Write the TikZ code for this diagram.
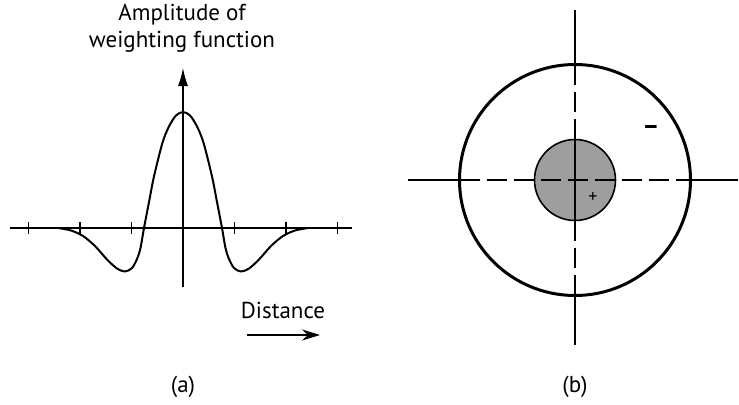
\documentclass[tikz,border=0pt]{standalone}
\usepackage{fontspec}
\setmainfont{PT Sans}
\usetikzlibrary{arrows.meta, positioning}
\definecolor{discgray}{gray}{0.62}

\begin{document}
\begin{tikzpicture}[x=0.5pt, y=0.5pt,
        axis/.style={line width=0.6pt},
        curve/.style={line width=1pt, line join=round},
        ring/.style={circle, draw, line width=1.5pt, inner sep=0pt, outer sep=0pt},
        disc/.style={circle, draw, line width=0.8pt, fill=discgray, inner sep=0pt, outer sep=0pt},
        dashaxis/.style={line width=0.6pt, dash pattern=on 10pt off 3.5pt},
        lbl/.style={font=\fontsize{11.5}{13.5}\selectfont, inner sep=0pt}]
  \useasboundingbox (0,0) rectangle (739,404);
  % (a) weighting function
  \coordinate (o) at (183,176);
  \coordinate (xl) at (10,176);
  \coordinate (xr) at (352,176);
  \coordinate (yb) at (183,117);
  \coordinate (yt) at (183,336);
  \draw[axis] (xl) -- (xr);
  \draw[axis, -{Latex[length=9pt, width=5pt]}] (yb) -- (yt);
  \foreach \k in {-3,-2,-1,1,2,3}
    \draw[axis] ([shift={(51.5*\k,-6)}]o) -- ([shift={(51.5*\k,6)}]o);
  \begin{scope}[shift={(o)}]
    \draw[curve] plot[smooth, tension=0.5] coordinates {
      (-125,0) (-112,-2.5) (-100,-8) (-88,-18) (-76,-31.5) (-66,-40.5)
      (-58,-43.5) (-51,-40) (-46,-31) (-42.5,-20) (-39,0) (-34,26)
      (-29,51.6) (-20.6,85) (-14,101.6) (-7,112.5) (0,116)
      (7,112.5) (14,101.6) (20.6,85) (29,51.6) (34,26) (39,0)
      (42.5,-20) (46,-31) (51,-40) (58,-43.5) (66,-40.5) (76,-31.5)
      (88,-18) (100,-8) (112,-2.5) (125,0)};
  \end{scope}
  \node[lbl, align=center] (amp) at (182,376) {Amplitude of\\weighting function};
  \node[lbl] (dist) at (283,94) {Distance};
  \coordinate (d0) at (247,69);
  \coordinate (d1) at (320,69);
  \draw[axis, -{Stealth[length=9pt, width=5.5pt]}] (d0) -- (d1);
  \node[lbl] (capa) at (183,17) {(a)};

  % (b) receptive field
  \node[ring, minimum size=115.5pt] (outer) at (575,224) {};
  \node[disc, minimum size=40.5pt] (inner) at (575,224) {};
  \coordinate (hl) at (408,224);
  \coordinate (hr) at (738,224);
  \coordinate (vt) at (575,394);
  \coordinate (vb) at (575,59);
  \draw[axis] (hl) -- (outer.west);
  \draw[axis] (outer.east) -- (hr);
  \draw[axis] (vt) -- (outer.north);
  \draw[axis] (outer.south) -- (vb);
  \draw[dashaxis] (outer.west) -- (outer.east);
  \draw[dashaxis] (outer.north) -- (inner.north);
  \draw[dashaxis] (inner.south) -- (outer.south);
  \draw[axis] (inner.north) -- (inner.south);
  \node[lbl, font=\fontsize{13}{13}\bfseries] (minus) at (651,274) {–};
  \node[lbl, font=\fontsize{9}{9}\selectfont] (plus) at (593,207) {+};
  \node[lbl] (capb) at (575,17) {(b)};
\end{tikzpicture}
\end{document}
